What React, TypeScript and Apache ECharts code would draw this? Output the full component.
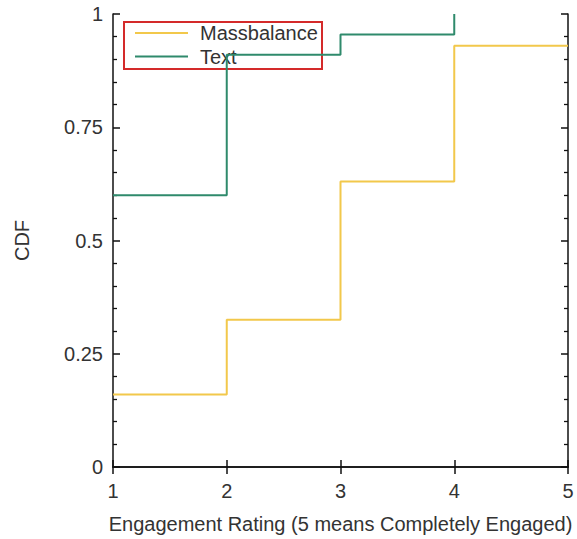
import React, { useEffect, useRef } from "react";
import * as echarts from "echarts";

const massX = [1, 2, 3, 4, 5];
const massY = [0.16, 0.325, 0.63, 0.93, 0.93];
const textX = [1, 2, 3, 4];
const textY = [0.6, 0.91, 0.955, 1];
const yTicks = [0, 0.25, 0.5, 0.75, 1];
const legendNames = ["Massbalance", "Text"];

const FONT = "Liberation Sans, Arial, sans-serif";
const MASS_COLOR = "#f2c84b";
const TEXT_COLOR = "#2f8a6c";
const LEG_COLORS = [MASS_COLOR, TEXT_COLOR];

const axisLine = () => ({ show: true, lineStyle: { color: "#111", width: 1.5 } });
const majorTick = () => ({ show: true, inside: true, length: 7, lineStyle: { color: "#111", width: 1.5 } });
const minorTick = () => ({ show: true, splitNumber: 5, length: 4, lineStyle: { color: "#111", width: 1.3 } });

export default function App() {
  const ref = useRef<HTMLDivElement>(null);
  useEffect(() => {
    if (!ref.current) return;
    const chart = echarts.init(ref.current, undefined, { renderer: "svg" });
    const legendGraphics: any[] = [
      {
        type: "rect",
        shape: { x: 124, y: 22, width: 198, height: 47 },
        style: { fill: "none", stroke: "#d42a2a", lineWidth: 2 },
        z: 1,
      },
    ];
    legendNames.forEach((n, i) => {
      const y = 33 + i * 23.5;
      legendGraphics.push({
        type: "line",
        shape: { x1: 135, y1: y, x2: 188, y2: y },
        style: { stroke: LEG_COLORS[i], lineWidth: 2 },
        z: 1,
      });
      legendGraphics.push({
        type: "text",
        x: 200,
        y,
        style: {
          text: n,
          fill: "#333",
          font: `20px ${FONT}`,
          verticalAlign: "middle",
        },
        z: 1,
      });
    });
    chart.setOption({
      animation: false,
      backgroundColor: "#fff",
      textStyle: { fontFamily: FONT },
      grid: { left: 113, right: 9, top: 14, bottom: 72, outerBoundsMode: "none" },
      graphic: legendGraphics,
      xAxis: [
        {
          type: "value",
          min: 1,
          max: 5,
          interval: 1,
          position: "bottom",
          name: "Engagement Rating (5 means Completely Engaged)",
          nameLocation: "middle",
          nameGap: 47,
          nameTextStyle: { fontFamily: FONT, fontSize: 20, color: "#333" },
          axisLine: axisLine(),
          axisTick: majorTick(),
          axisLabel: { fontFamily: FONT, fontSize: 20, color: "#333", margin: 14 },
          splitLine: { show: false },
        },
        {
          type: "value",
          min: 1,
          max: 5,
          interval: 1,
          position: "top",
          axisLine: axisLine(),
          axisTick: majorTick(),
          axisLabel: { show: false },
          splitLine: { show: false },
        },
      ],
      yAxis: [
        {
          type: "value",
          min: 0,
          max: 1,
          interval: 0.25,
          position: "left",
          name: "CDF",
          nameLocation: "middle",
          nameGap: 81,
          nameRotate: 90,
          nameTextStyle: { fontFamily: FONT, fontSize: 20, color: "#333" },
          axisLine: axisLine(),
          axisTick: majorTick(),
          minorTick: minorTick(),
          axisLabel: {
            fontFamily: FONT,
            fontSize: 20,
            color: "#333",
            margin: 10,
            formatter: (v: number) => {
              const t = yTicks.find((k) => Math.abs(k - v) < 1e-9);
              return t === undefined ? "" : String(t);
            },
          },
          splitLine: { show: false },
        },
        {
          type: "value",
          min: 0,
          max: 1,
          interval: 0.25,
          position: "right",
          axisLine: axisLine(),
          axisTick: majorTick(),
          minorTick: minorTick(),
          axisLabel: { show: false },
          splitLine: { show: false },
        },
      ],
      series: [
        {
          name: "Massbalance",
          type: "line",
          step: "end",
          showSymbol: false,
          symbol: "none",
          z: 5,
          lineStyle: { color: MASS_COLOR, width: 2 },
          itemStyle: { color: MASS_COLOR },
          data: massX.map((x, i) => [x, massY[i]]),
        },
        {
          name: "Text",
          type: "line",
          step: "end",
          showSymbol: false,
          symbol: "none",
          z: 5,
          lineStyle: { color: TEXT_COLOR, width: 2 },
          itemStyle: { color: TEXT_COLOR },
          data: textX.map((x, i) => [x, textY[i]]),
        },
      ],
    });
    return () => chart.dispose();
  }, []);
  return <div ref={ref} style={{ width: 577, height: 539, position: "absolute", left: 0, top: 0 }} />;
}
